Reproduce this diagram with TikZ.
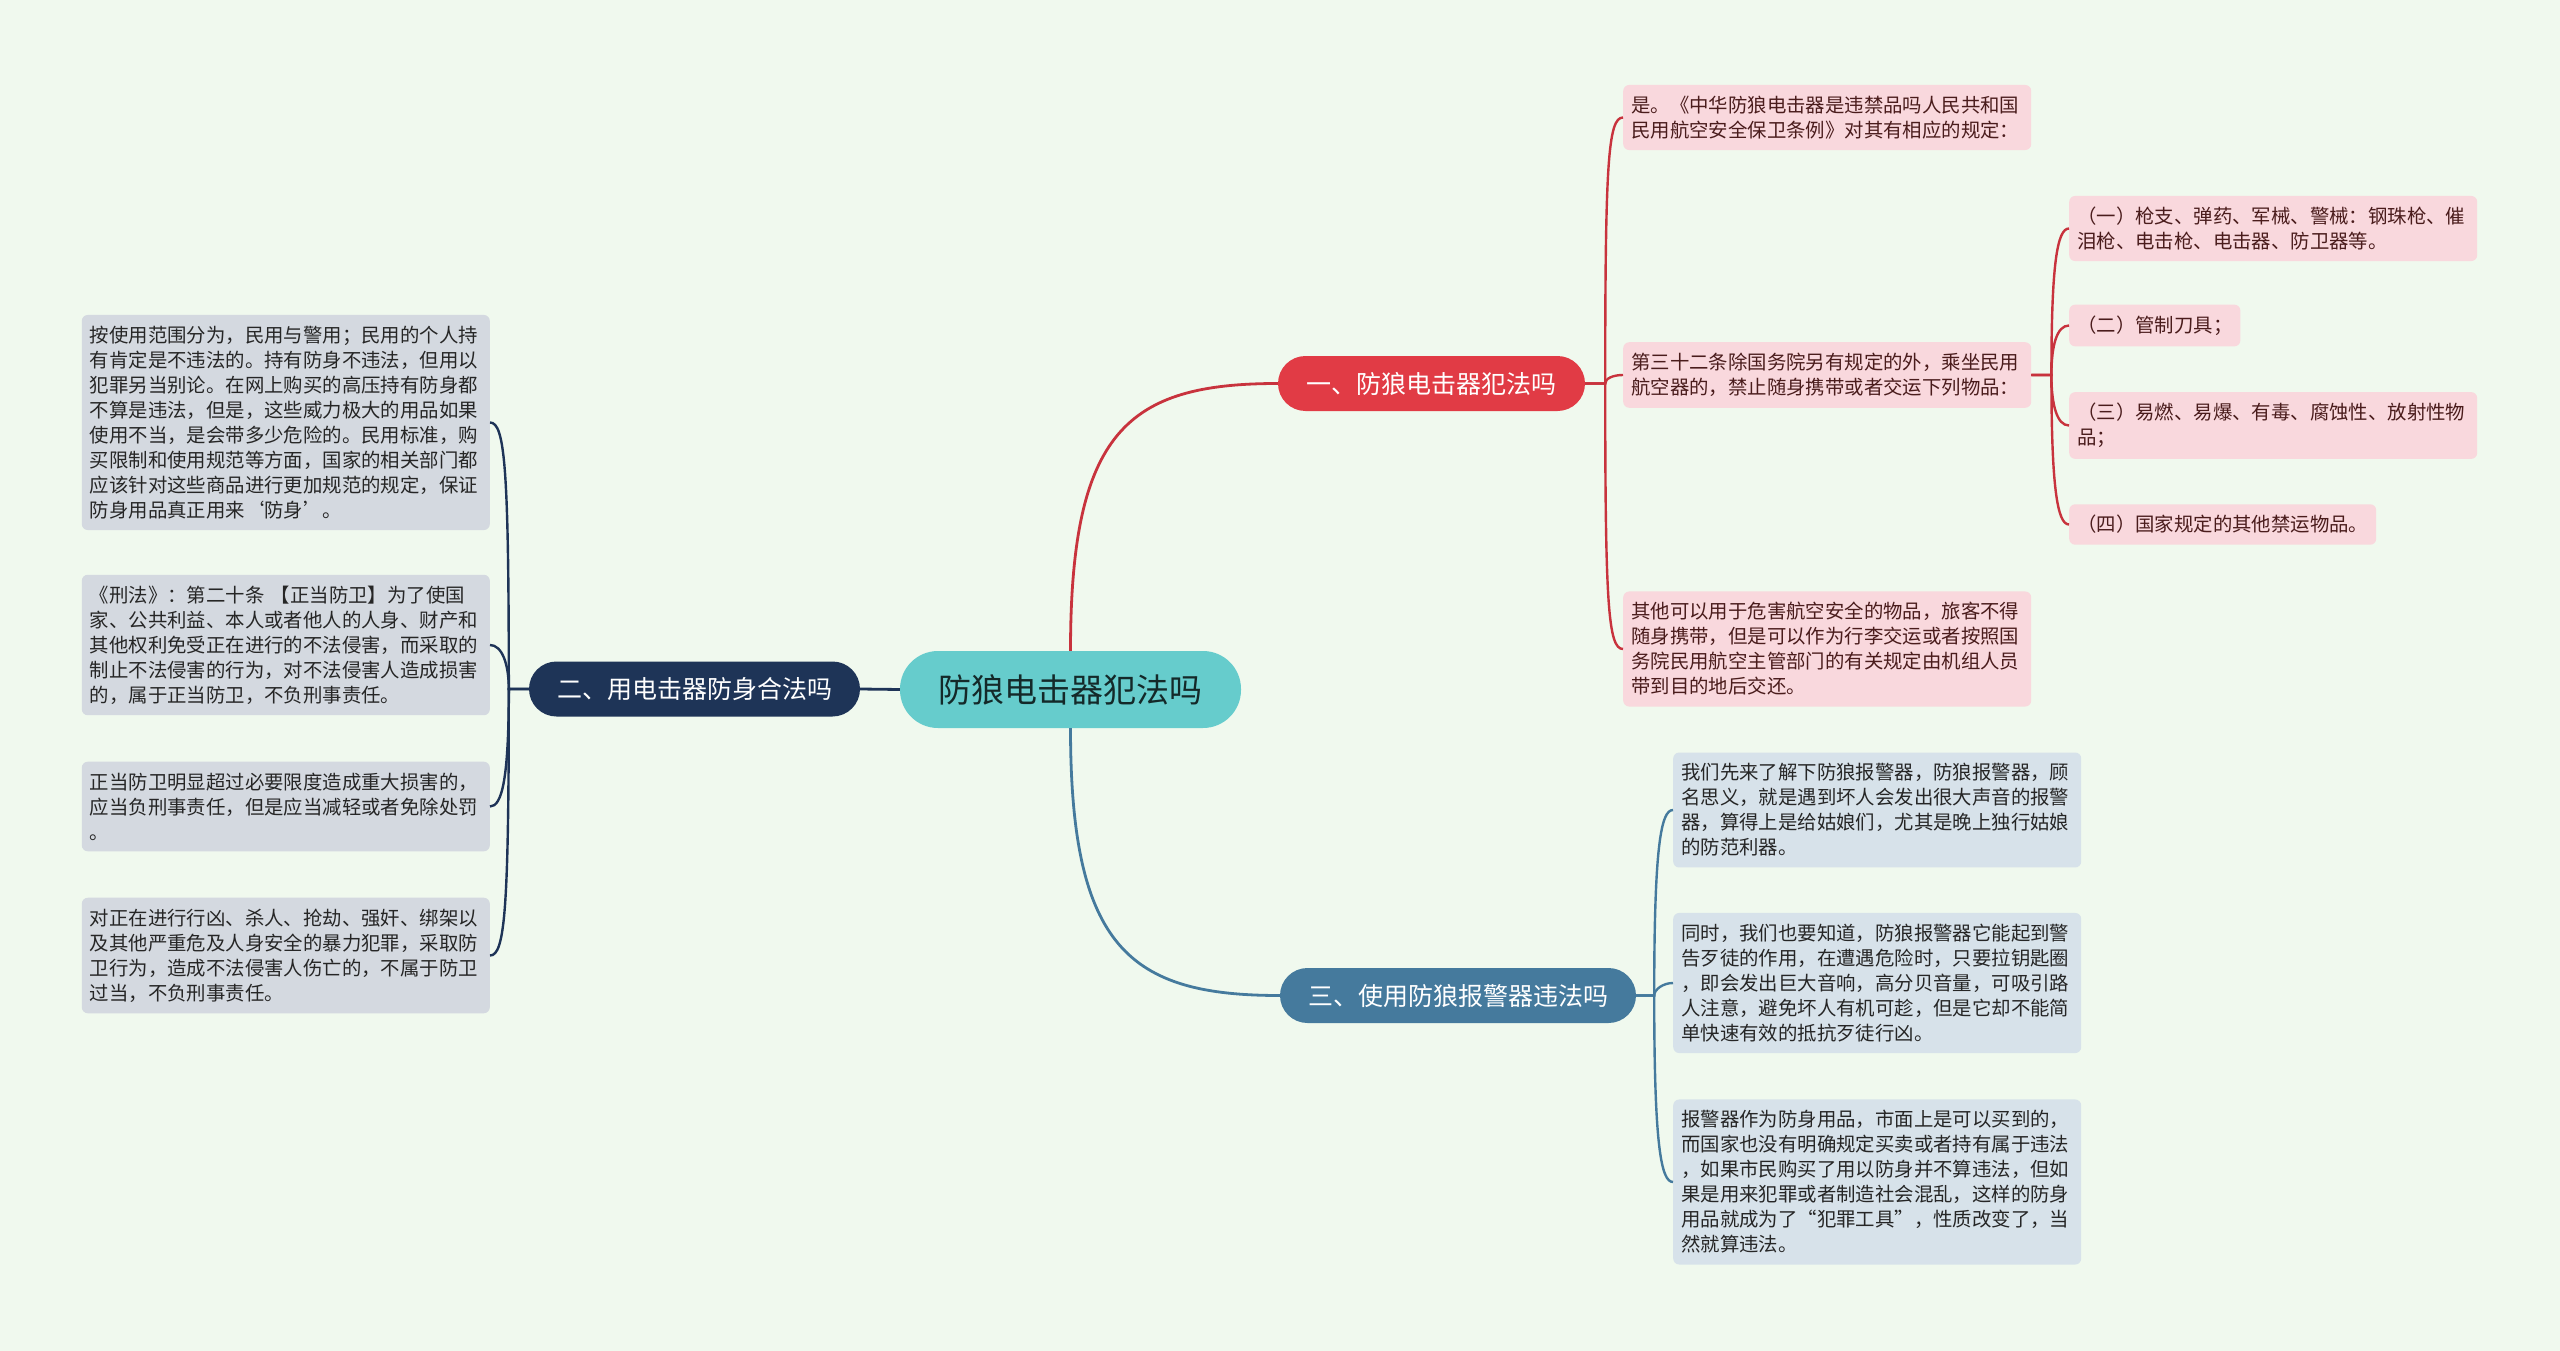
\documentclass[tikz,border=0pt]{standalone}
\usepackage{fontspec}
\setmainfont{Noto Sans CJK SC}
\definecolor{bgc}{HTML}{F0F9EE}
\definecolor{teal}{HTML}{66CCCC}
\definecolor{redb}{HTML}{E13B45}
\definecolor{navy}{HTML}{1E3457}
\definecolor{steel}{HTML}{457A9D}
\definecolor{pinkf}{HTML}{F9D8DD}
\definecolor{grayf}{HTML}{D4D9E0}
\definecolor{bluef}{HTML}{D7E2EA}
\definecolor{redl}{HTML}{C8333D}
\definecolor{pinkt}{HTML}{4A1C1C}
\tikzset{
  centernode/.style={fill=teal, text=black!80!teal, rounded corners=38pt, minimum width=341pt, minimum height=77pt, inner sep=0pt, font=\fontsize{33}{36}\selectfont},
  branchnode/.style={rounded corners=27.5pt, minimum height=55pt, inner sep=0pt, text=white, font=\fontsize{25}{28}\selectfont},
  leafnode/.style={rounded corners=6pt, inner xsep=8pt, inner ysep=11pt, align=left, font=\fontsize{19.4}{25}\selectfont},
  wideleaf/.style={leafnode, text width=392pt},
  pinkleaf/.style={fill=pinkf, text=pinkt},
  grayleaf/.style={fill=grayf, text=black!85},
  blueleaf/.style={fill=bluef, text=black!85},
  redline/.style={draw=redl, line width=2.4pt},
  navyline/.style={draw=navy, line width=2.4pt},
  blueline/.style={draw=steel, line width=2.4pt},
}
\begin{document}
\begin{tikzpicture}[x=1pt,y=-1pt]
\fill[bgc] (0,0) rectangle (2560,1351);
\useasboundingbox (0,0) rectangle (2560,1351);

\node[centernode] (c) at (1070.5,689.5) {防狼电击器犯法吗};
\node[branchnode, fill=redb, minimum width=307pt] (b1) at (1431.5,383.5) {一、防狼电击器犯法吗};
\node[branchnode, fill=navy, minimum width=331pt] (b2) at (694.5,689) {二、用电击器防身合法吗};
\node[branchnode, fill=steel, minimum width=356pt] (b3) at (1458,995.5) {三、使用防狼报警器违法吗};

% red leaves
\node[wideleaf, pinkleaf, anchor=west] (r1) at (1623,117.5) {是。《中华防狼电击器是违禁品吗人民共和国\\民用航空安全保卫条例》对其有相应的规定：};
\node[wideleaf, pinkleaf, anchor=west] (r2) at (1623,375) {第三十二条除国务院另有规定的外，乘坐民用\\航空器的，禁止随身携带或者交运下列物品：};
\node[wideleaf, pinkleaf, anchor=west] (r3) at (1623,649) {其他可以用于危害航空安全的物品，旅客不得\\随身携带，但是可以作为行李交运或者按照国\\务院民用航空主管部门的有关规定由机组人员\\带到目的地后交还。};
\node[wideleaf, pinkleaf, anchor=west] (c1) at (2069,228.5) {（一）枪支、弹药、军械、警械：钢珠枪、催\\泪枪、电击枪、电击器、防卫器等。};
\node[leafnode, pinkleaf, anchor=west] (c2) at (2069,325.5) {（二）管制刀具；};
\node[wideleaf, pinkleaf, anchor=west] (c3) at (2069,425.5) {（三）易燃、易爆、有毒、腐蚀性、放射性物\\品；};
\node[leafnode, pinkleaf, anchor=west] (c4) at (2069,524.5) {（四）国家规定的其他禁运物品。};

% blue leaves
\node[wideleaf, blueleaf, anchor=west] (s1) at (1673,810) {我们先来了解下防狼报警器，防狼报警器，顾\\名思义，就是遇到坏人会发出很大声音的报警\\器，算得上是给姑娘们，尤其是晚上独行姑娘\\的防范利器。};
\node[wideleaf, blueleaf, anchor=west] (s2) at (1673,983) {同时，我们也要知道，防狼报警器它能起到警\\告歹徒的作用，在遭遇危险时，只要拉钥匙圈\\，即会发出巨大音响，高分贝音量，可吸引路\\人注意，避免坏人有机可趁，但是它却不能简\\单快速有效的抵抗歹徒行凶。};
\node[wideleaf, blueleaf, anchor=west] (s3) at (1673,1182) {报警器作为防身用品，市面上是可以买到的，\\而国家也没有明确规定买卖或者持有属于违法\\，如果市民购买了用以防身并不算违法，但如\\果是用来犯罪或者制造社会混乱，这样的防身\\用品就成为了“犯罪工具”，性质改变了，当\\然就算违法。};

% gray leaves
\node[wideleaf, grayleaf, anchor=east] (l1) at (490,422.5) {按使用范围分为，民用与警用；民用的个人持\\有肯定是不违法的。持有防身不违法，但用以\\犯罪另当别论。在网上购买的高压持有防身都\\不算是违法，但是，这些威力极大的用品如果\\使用不当，是会带多少危险的。民用标准，购\\买限制和使用规范等方面，国家的相关部门都\\应该针对这些商品进行更加规范的规定，保证\\防身用品真正用来‘防身’。};
\node[wideleaf, grayleaf, anchor=east] (l2) at (490,645) {《刑法》：第二十条 【正当防卫】为了使国\\家、公共利益、本人或者他人的人身、财产和\\其他权利免受正在进行的不法侵害，而采取的\\制止不法侵害的行为，对不法侵害人造成损害\\的，属于正当防卫，不负刑事责任。};
\node[wideleaf, grayleaf, anchor=east] (l3) at (490,806.5) {正当防卫明显超过必要限度造成重大损害的，\\应当负刑事责任，但是应当减轻或者免除处罚\\。};
\node[wideleaf, grayleaf, anchor=east] (l4) at (490,955.5) {对正在进行行凶、杀人、抢劫、强奸、绑架以\\及其他严重危及人身安全的暴力犯罪，采取防\\卫行为，造成不法侵害人伤亡的，不属于防卫\\过当，不负刑事责任。};

% main connectors
\draw[redline, line width=2.8pt] (c.north) .. controls +(0,-220) and +(-150,0) .. (b1.west);
\draw[blueline, line width=2.8pt] (c.south) .. controls +(0,220) and +(-150,0) .. (b3.west);
\draw[navyline, line width=2.8pt] (c.west) -- (b2.east);

% branch 1 to leaves
\draw[redline] (b1.east) -- ++(20,0) .. controls +(0,-220) and +(-15,0) .. (r1.west);
\draw[redline] (b1.east) -- ++(20,0) .. controls +(0,-5) and +(-10,0) .. (r2.west);
\draw[redline] (b1.east) -- ++(20,0) .. controls +(0,220) and +(-15,0) .. (r3.west);

% r2 to children
\draw[redline] (r2.east) -- ++(20,0) .. controls +(0,-110) and +(-12,0) .. (c1.west);
\draw[redline] (r2.east) -- ++(20,0) .. controls +(0,-30) and +(-12,0) .. (c2.west);
\draw[redline] (r2.east) -- ++(20,0) .. controls +(0,30) and +(-12,0) .. (c3.west);
\draw[redline] (r2.east) -- ++(20,0) .. controls +(0,110) and +(-12,0) .. (c4.west);

% branch 3 to leaves
\draw[blueline] (b3.east) -- ++(18,0) .. controls +(0,-150) and +(-12,0) .. (s1.west);
\draw[blueline] (b3.east) -- ++(18,0) .. controls +(0,-6) and +(-10,0) .. (s2.west);
\draw[blueline] (b3.east) -- ++(18,0) .. controls +(0,150) and +(-12,0) .. (s3.west);

% branch 2 to leaves
\draw[navyline] (b2.west) -- ++(-20,0) .. controls +(0,-220) and +(15,0) .. (l1.east);
\draw[navyline] (b2.west) -- ++(-20,0) .. controls +(0,-25) and +(12,0) .. (l2.east);
\draw[navyline] (b2.west) -- ++(-20,0) .. controls +(0,90) and +(12,0) .. (l3.east);
\draw[navyline] (b2.west) -- ++(-20,0) .. controls +(0,220) and +(15,0) .. (l4.east);
\end{tikzpicture}
\end{document}
